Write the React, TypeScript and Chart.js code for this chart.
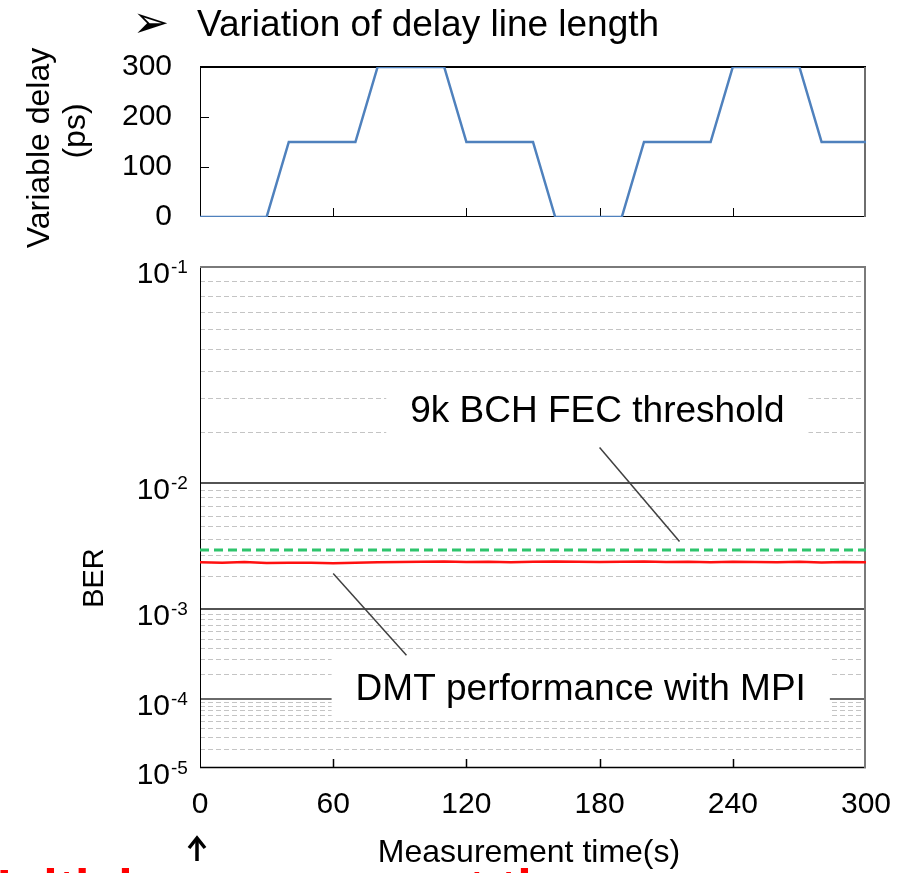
import React, { useEffect, useRef } from "react";
import { Chart, registerables } from "chart.js";

Chart.register(...registerables);

const FONT = "'Liberation Sans', Arial, Helvetica, 'DejaVu Sans', sans-serif";

// ---- top panel: variable delay (ps) vs time (s)
const DELAY_TIME = [0, 30, 40, 70, 80, 110, 120, 150, 160, 190, 200, 230, 240, 270, 280, 300];
const DELAY_PS = [0, 0, 150, 150, 300, 300, 150, 150, 0, 0, 150, 150, 300, 300, 150, 150];
const DELAY_TICKS = [0, 100, 200, 300];
const TIME_TICKS = [0, 60, 120, 180, 240, 300];

// ---- bottom panel: BER vs time (s)
const MPI_TIME = [0, 10, 20, 30, 40, 50, 60, 70, 80, 90, 100, 110, 120, 130, 140, 150, 160, 170, 180, 190, 200, 210, 220, 230, 240, 250, 260, 270, 280, 290, 300];
const MPI_BER = [2.62e-3, 2.6e-3, 2.63e-3, 2.58e-3, 2.6e-3, 2.59e-3, 2.57e-3, 2.6e-3, 2.62e-3, 2.63e-3, 2.64e-3, 2.66e-3, 2.63e-3, 2.65e-3, 2.62e-3, 2.64e-3, 2.66e-3, 2.64e-3, 2.63e-3, 2.65e-3, 2.66e-3, 2.63e-3, 2.64e-3, 2.62e-3, 2.64e-3, 2.63e-3, 2.62e-3, 2.64e-3, 2.61e-3, 2.63e-3, 2.62e-3];
const FEC_TIME = [0, 300];
const FEC_BER = [3.3e-3, 3.3e-3];
const BER_EXPONENTS = [-1, -2, -3, -4, -5];
const MINOR_MANTISSAS = [2, 3, 4, 5, 6, 7, 8, 9];

// annotations (data coordinates: time s, BER)
const FEC_LABEL = { text: "9k BCH FEC threshold", t: 179, ber: 2.55e-2 };
const FEC_LEADER = [{ t: 180, ber: 1.64e-2 }, { t: 216, ber: 3.85e-3 }];
const MPI_LABEL = { text: "DMT performance with MPI", t: 171.5, ber: 1.3e-4 };
const MPI_LEADER = [{ t: 60, ber: 2.11e-3 }, { t: 93, ber: 3.3e-4 }];

const TITLE_TEXT = "Variation of delay line length";
const TOP_Y_TITLE = ["Variable delay", "(ps)"];
const BER_TITLE = "BER";
const X_TITLE = "Measurement time(s)";
const FOOT_TEXT = "Initial measurement time";

const toAxis = (ber: number) => Math.log10(-Math.log10(ber));

function seg(ctx: CanvasRenderingContext2D, x1: number, y1: number, x2: number, y2: number) {
  ctx.beginPath();
  ctx.moveTo(x1, y1);
  ctx.lineTo(x2, y2);
  ctx.stroke();
}

const topPlugin = {
  id: "topDecor",
  beforeDatasetsDraw(chart: any) {
    const { ctx, chartArea: a, scales } = chart;
    const xs = scales.x;
    const ys = scales.y;
    ctx.save();
    ctx.strokeStyle = "#000";
    ctx.lineWidth = 1;
    seg(ctx, a.left + 0.5, a.top, a.left + 0.5, a.bottom);
    seg(ctx, a.left, a.bottom - 0.5, a.right, a.bottom - 0.5);
    DELAY_TICKS.filter((v) => v > 0 && v < 300).forEach((v) => {
      const y = Math.round(ys.getPixelForValue(v)) + 0.5;
      seg(ctx, a.left, y, a.left + 9, y);
    });
    TIME_TICKS.filter((t) => t > 0 && t < 300).forEach((t) => {
      const x = Math.round(xs.getPixelForValue(t)) + 0.5;
      seg(ctx, x, a.bottom, x, a.bottom - 9);
    });
    ctx.lineWidth = 2;
    seg(ctx, a.left, a.top, a.right, a.top);
    ctx.strokeStyle = "#6e6e6e";
    seg(ctx, a.right - 1, a.top, a.right - 1, a.bottom);
    ctx.restore();
  },
  afterDraw(chart: any) {
    const { ctx } = chart;
    ctx.save();
    ctx.fillStyle = "#000";
    ctx.textBaseline = "alphabetic";
    ctx.textAlign = "center";
    ctx.font = `bold 44px 'DejaVu Sans', sans-serif`;
    ctx.fillText("\u27A2", 151, 37);
    ctx.textAlign = "left";
    ctx.font = `37px ${FONT}`;
    ctx.fillText(TITLE_TEXT, 197, 36);
    // rotated y title
    ctx.font = `32px ${FONT}`;
    ctx.textAlign = "center";
    ctx.textBaseline = "middle";
    ctx.save();
    ctx.translate(40, 148);
    ctx.rotate(-Math.PI / 2);
    ctx.fillText(TOP_Y_TITLE[0], 0, 0);
    ctx.restore();
    ctx.save();
    ctx.translate(76, 131);
    ctx.rotate(-Math.PI / 2);
    ctx.fillText(TOP_Y_TITLE[1], 0, 0);
    ctx.restore();
    ctx.restore();
  },
};

const botPlugin = {
  id: "botDecor",
  beforeDatasetsDraw(chart: any) {
    const { ctx, chartArea: a, scales } = chart;
    const xs = scales.x;
    const ys = scales.y;
    ctx.save();
    // minor grid
    ctx.strokeStyle = "#c4c4c4";
    ctx.lineWidth = 1;
    ctx.setLineDash([5, 3]);
    BER_EXPONENTS.slice(0, 4).forEach((e) => {
      MINOR_MANTISSAS.forEach((m) => {
        const y = Math.round(ys.getPixelForValue(toAxis(m * Math.pow(10, e - 1)))) + 0.5;
        seg(ctx, a.left, y, a.right, y);
      });
    });
    ctx.setLineDash([]);
    // decade lines
    BER_EXPONENTS.slice(1, 4).forEach((e) => {
      const y = Math.round(ys.getPixelForValue(toAxis(Math.pow(10, e))));
      if (e === -4) {
        ctx.strokeStyle = "#6a6a6a";
        ctx.lineWidth = 2;
      } else {
        ctx.strokeStyle = "#1a1a1a";
        ctx.lineWidth = 1.5;
      }
      seg(ctx, a.left, y, a.right, y);
    });
    // white label boxes
    ctx.font = `37px ${FONT}`;
    ctx.fillStyle = "#fff";
    [FEC_LABEL, MPI_LABEL].forEach((l) => {
      const cx = xs.getPixelForValue(l.t);
      const cy = ys.getPixelForValue(toAxis(l.ber));
      const w = ctx.measureText(l.text).width;
      ctx.fillRect(cx - w / 2 - 24, cy - 35, w + 48, 66);
    });
    // frame
    ctx.strokeStyle = "#000";
    ctx.lineWidth = 1;
    seg(ctx, a.left + 0.5, a.top, a.left + 0.5, a.bottom);
    ctx.lineWidth = 1.5;
    seg(ctx, a.left, a.bottom - 0.5, a.right, a.bottom - 0.5);
    TIME_TICKS.filter((t) => t > 0 && t < 300).forEach((t) => {
      const x = Math.round(xs.getPixelForValue(t)) + 0.5;
      ctx.lineWidth = 1.5;
      seg(ctx, x, a.bottom, x, a.bottom - 9);
    });
    ctx.strokeStyle = "#7a7a7a";
    ctx.lineWidth = 2;
    seg(ctx, a.left, a.top, a.right, a.top);
    seg(ctx, a.right - 1, a.top, a.right - 1, a.bottom);
    ctx.restore();
  },
  afterDatasetsDraw(chart: any) {
    const { ctx, scales } = chart;
    const xs = scales.x;
    const ys = scales.y;
    ctx.save();
    ctx.strokeStyle = "#404040";
    ctx.lineWidth = 1.5;
    [FEC_LEADER, MPI_LEADER].forEach((ld) => {
      seg(
        ctx,
        xs.getPixelForValue(ld[0].t),
        ys.getPixelForValue(toAxis(ld[0].ber)),
        xs.getPixelForValue(ld[1].t),
        ys.getPixelForValue(toAxis(ld[1].ber))
      );
    });
    ctx.fillStyle = "#000";
    ctx.font = `37px ${FONT}`;
    ctx.textAlign = "center";
    ctx.textBaseline = "middle";
    [FEC_LABEL, MPI_LABEL].forEach((l) => {
      ctx.fillText(l.text, xs.getPixelForValue(l.t), ys.getPixelForValue(toAxis(l.ber)));
    });
    ctx.restore();
  },
  afterDraw(chart: any) {
    const { ctx, scales, chartArea: a } = chart;
    const xs = scales.x;
    const ys = scales.y;
    ctx.save();
    ctx.fillStyle = "#000";
    ctx.textBaseline = "alphabetic";
    BER_EXPONENTS.forEach((e) => {
      const y = ys.getPixelForValue(toAxis(Math.pow(10, e)));
      ctx.font = `30px ${FONT}`;
      ctx.textAlign = "right";
      ctx.fillText("10", 170, y + 16);
      ctx.font = `19px ${FONT}`;
      ctx.textAlign = "left";
      ctx.fillText(String(e), 171, y + 6);
    });
    // BER title
    ctx.font = `29px ${FONT}`;
    ctx.textAlign = "center";
    ctx.textBaseline = "middle";
    ctx.save();
    ctx.translate(95, 338);
    ctx.rotate(-Math.PI / 2);
    ctx.fillText(BER_TITLE, 0, 0);
    ctx.restore();
    // x title
    ctx.font = `32px ${FONT}`;
    ctx.fillText(X_TITLE, (a.left + a.right) / 2 - 4, 613);
    // arrow at t = 0
    const ax = xs.getPixelForValue(0) - 3;
    ctx.strokeStyle = "#000";
    ctx.lineWidth = 3.5;
    seg(ctx, ax, 621, ax, 599);
    ctx.beginPath();
    ctx.moveTo(ax - 8, 608);
    ctx.lineTo(ax, 598);
    ctx.lineTo(ax + 8, 608);
    ctx.stroke();
    // red footer text (cut by page bottom)
    ctx.fillStyle = "#ff0000";
    ctx.textAlign = "left";
    ctx.textBaseline = "alphabetic";
    ctx.font = `bold 52px ${FONT}`;
    ctx.fillText(FOOT_TEXT, -3, a.bottom + 138);
    ctx.restore();
  },
};

export default function App() {
  const topRef = useRef<HTMLCanvasElement>(null);
  const botRef = useRef<HTMLCanvasElement>(null);

  useEffect(() => {
    const common = {
      animation: false,
      responsive: false,
      devicePixelRatio: 1,
      events: [],
      plugins: { legend: { display: false }, tooltip: { enabled: false }, title: { display: false } },
    };

    const top = new Chart(topRef.current as HTMLCanvasElement, {
      type: "line",
      data: {
        datasets: [
          {
            data: DELAY_TIME.map((t, i) => ({ x: t, y: DELAY_PS[i] })),
            borderColor: "#4f81bd",
            borderWidth: 2.5,
            pointRadius: 0,
            tension: 0,
          },
        ],
      },
      options: {
        ...common,
        layout: { padding: { top: 67, right: 34, left: 0, bottom: 0 } },
        scales: {
          x: {
            type: "linear",
            min: 0,
            max: 300,
            ticks: { display: false },
            grid: { display: false, drawTicks: false },
            border: { display: false },
            afterFit: (s: any) => {
              s.height = 46;
            },
          },
          y: {
            type: "linear",
            min: 0,
            max: 300,
            afterBuildTicks: (s: any) => {
              s.ticks = DELAY_TICKS.map((v) => ({ value: v }));
            },
            ticks: { font: { family: FONT, size: 30 }, color: "#000", padding: 28 },
            grid: { display: false, drawTicks: false },
            border: { display: false },
            afterFit: (s: any) => {
              s.width = 200;
            },
          },
        },
      } as any,
      plugins: [topPlugin],
    });

    const bot = new Chart(botRef.current as HTMLCanvasElement, {
      type: "line",
      data: {
        datasets: [
          {
            data: MPI_TIME.map((t, i) => ({ x: t, y: toAxis(MPI_BER[i]) })),
            borderColor: "#ff1010",
            borderWidth: 2.5,
            pointRadius: 0,
            tension: 0,
          },
          {
            data: FEC_TIME.map((t, i) => ({ x: t, y: toAxis(FEC_BER[i]) })),
            borderColor: "#2ec46c",
            borderWidth: 3,
            borderDash: [9, 5],
            pointRadius: 0,
            tension: 0,
          },
        ],
      },
      options: {
        ...common,
        layout: { padding: { top: 27, right: 34, left: 0, bottom: 0 } },
        scales: {
          x: {
            type: "linear",
            min: 0,
            max: 300,
            afterBuildTicks: (s: any) => {
              s.ticks = TIME_TICKS.map((v) => ({ value: v }));
            },
            ticks: { font: { family: FONT, size: 30, lineHeight: 1.93 }, color: "#000", padding: 8, maxRotation: 0 },
            grid: { display: false, drawTicks: false },
            border: { display: false },
            afterFit: (s: any) => {
              s.height = 105;
            },
          },
          y: {
            type: "linear",
            reverse: true,
            min: 0,
            max: toAxis(1e-5),
            ticks: { display: false },
            grid: { display: false, drawTicks: false },
            border: { display: false },
            afterFit: (s: any) => {
              s.width = 200;
            },
          },
        },
      } as any,
      plugins: [botPlugin],
    });

    return () => {
      top.destroy();
      bot.destroy();
    };
  }, []);

  return (
    <div style={{ position: "absolute", left: 0, top: 0, width: 900, height: 873, background: "#fff", overflow: "hidden" }}>
      <canvas ref={botRef} width={900} height={633} style={{ position: "absolute", left: 0, top: 240, width: 900, height: 633 }} />
      <canvas ref={topRef} width={900} height={263} style={{ position: "absolute", left: 0, top: 0, width: 900, height: 263 }} />
    </div>
  );
}
